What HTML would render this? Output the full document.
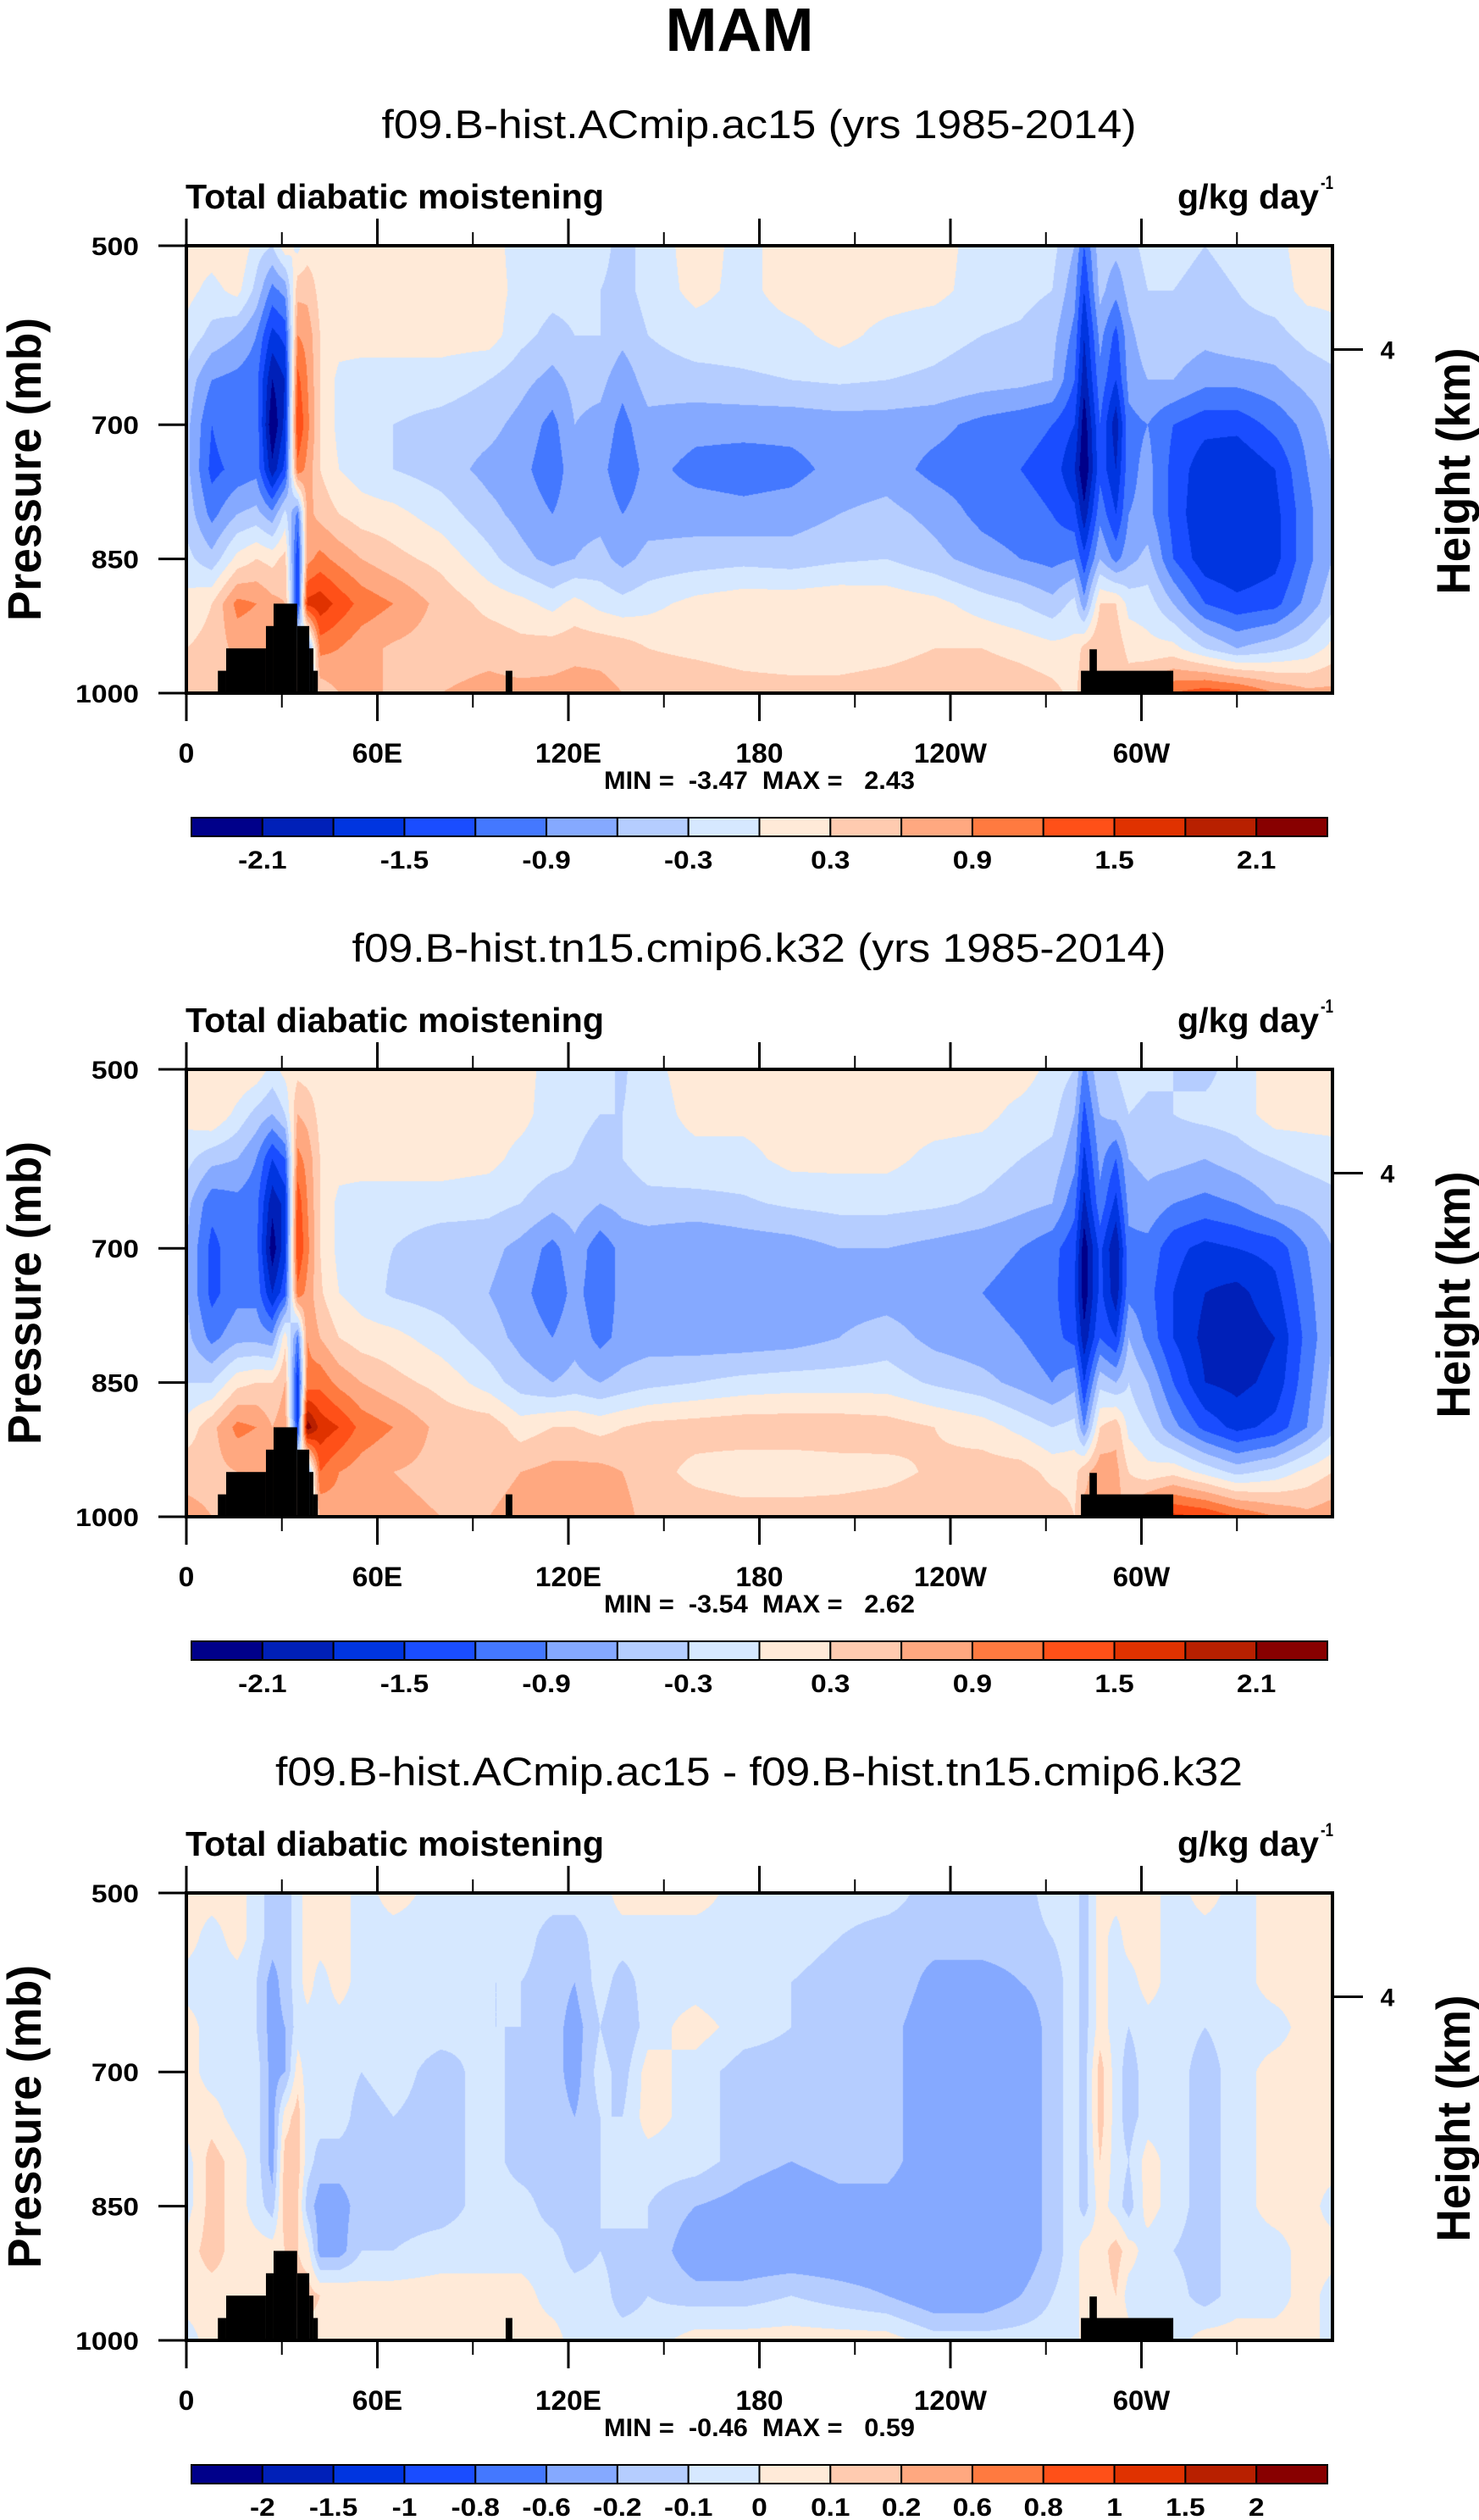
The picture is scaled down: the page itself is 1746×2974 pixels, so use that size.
<!DOCTYPE html>
<html><head><meta charset="utf-8">
<style>
html,body{margin:0;padding:0;background:#fff;}
#wrap{position:relative;width:1746px;height:2974px;overflow:hidden;background:#fff;}
canvas{position:absolute;left:220px;}
svg{position:absolute;left:0;top:0;}
text{font-family:"Liberation Sans",Arial,sans-serif;fill:#000;}
.pre{white-space:pre;}
</style></head>
<body>
<div id="wrap">
<canvas id="c0" width="1353" height="528" style="top:290px"></canvas>
<canvas id="c1" width="1353" height="528" style="top:1262px"></canvas>
<canvas id="c2" width="1353" height="528" style="top:2234px"></canvas>
<svg id="ov" width="1746" height="2974"></svg>
</div>
<script>
// ---------- data ----------
const lonNodes=[0,8,16,22,27,31,35,38,42,48,55,65,80,95,105,115,122,130,137,145,160,175,190,205,220,235,250,262,272,279,282,287,292,296,302,310,320,330,342,352,360];
const presNodes=[500,550,600,650,700,750,800,850,900,950,1000];

const fieldAC15=[
[.15,.15,.3,-.15,-.3,.2,-.1,.15,.15,.15,.15,.15,.15,.15,-.15,-.3,-.3,-.2,-.4,-.2,.15,-.1,.15,.15,.15,.15,-.15,-.15,-.2,-.6,-1.2,-.4,-.5,-.4,-.2,-.2,-.3,-.2,-.1,.15,.15],
[.1,-.1,.1,-.4,-1.0,-.8,.5,.5,.2,.15,.15,.15,.15,.15,-.1,-.2,-.2,-.3,-.4,-.2,.1,-.1,.15,.15,.15,.1,-.15,-.2,-.3,-.8,-1.5,-.5,-.8,-.5,-.3,-.3,-.4,-.3,-.15,.1,.1],
[-.1,-.4,-.6,-.9,-1.6,-1.4,.9,.8,.3,.15,.15,.15,.15,.15,-.2,-.4,-.3,-.3,-.5,-.3,-.15,-.15,-.1,.1,-.1,-.2,-.3,-.35,-.5,-1.0,-1.8,-.8,-1.3,-.7,-.4,-.4,-.5,-.4,-.4,-.2,-.1],
[-.4,-.9,-1.0,-1.1,-2.1,-1.8,1.3,.9,.3,-.1,-.15,-.15,-.15,-.3,-.5,-.7,-.5,-.5,-.8,-.45,-.4,-.35,-.3,-.25,-.3,-.35,-.45,-.5,-.6,-1.2,-2.0,-1.0,-1.5,-.8,-.6,-.6,-.8,-.8,-.7,-.5,-.4],
[-.5,-1.2,-.9,-1.0,-2.4,-1.7,1.5,1.0,.3,-.1,-.2,-.3,-.4,-.5,-.7,-1.0,-.6,-.7,-1.0,-.7,-.8,-.8,-.8,-.75,-.75,-.8,-1.0,-1.1,-1.2,-1.5,-2.3,-1.2,-2.0,-1.0,-.9,-1.2,-1.4,-1.4,-1.1,-.8,-.5],
[-.5,-1.3,-1.1,-1.0,-2.0,-1.4,1.1,.8,.3,0,-.15,-.3,-.45,-.7,-.8,-1.1,-.7,-.8,-1.1,-.8,-1.0,-1.05,-1.0,-.8,-.75,-1.0,-1.1,-1.2,-1.3,-1.8,-2.4,-1.3,-1.8,-1.0,-.8,-1.3,-1.7,-1.8,-1.5,-.9,-.6],
[-.4,-1.0,-.6,-.5,-.8,-.2,-1.0,.7,.5,.3,.15,.1,-.15,-.5,-.7,-.9,-.7,-.7,-.9,-.75,-.75,-.8,-.75,-.6,-.5,-.7,-1.0,-1.1,-1.2,-1.4,-2.0,-1.0,-1.5,-.9,-.8,-1.3,-1.8,-1.8,-1.6,-1.0,-.6],
[-.2,-.5,.1,.3,.2,.4,-1.5,.8,1.0,.8,.6,.4,.2,-.2,-.5,-.7,-.6,-.5,-.7,-.5,-.45,-.4,-.45,-.35,-.3,-.5,-.75,-.9,-1.0,-.9,-1.4,-.6,-1.0,-.7,-.5,-1.2,-1.7,-1.8,-1.6,-1.0,-.6],
[.1,.3,1.0,.9,.7,.6,-1.5,1.6,1.7,1.4,1.1,.9,.5,.2,.1,-.1,.1,-.1,-.2,-.1,.1,.2,.2,.25,.2,.1,-.15,-.3,-.5,-.2,-.8,.3,.3,-.1,-.15,-.6,-1.2,-1.4,-1.3,-.8,-.4],
[.3,.4,.7,.7,.6,.6,.3,-1.0,1.0,.9,.7,.55,.45,.5,.4,.45,.5,.5,.45,.3,.25,.2,.15,.15,.2,.3,.3,.2,.1,.1,.4,.6,.5,.2,.1,.1,-.3,-.6,-.4,-.2,.1],
[.6,.6,.6,.6,.6,.6,.6,-.5,.4,.6,.6,.6,.6,.7,.7,.7,.75,.7,.6,.45,.45,.4,.4,.4,.45,.5,.55,.5,.4,.2,.6,.6,.6,.5,.8,1.2,1.4,1.3,.9,.7,.7]
];
const fieldTN15=[
[.15,.3,.3,.2,-.1,.1,.2,.15,.15,.15,.15,.15,.15,.15,.1,-.1,-.3,-.2,-.35,-.1,.15,.15,.15,.15,.15,.15,.15,.15,-.1,-.3,-1.0,-.3,-.3,-.1,-.2,-.3,-.4,-.15,.15,.15,.15],
[.1,.3,-.1,-.4,-.6,-.3,.6,.5,.2,.15,.15,.2,.2,.15,.1,-.15,-.2,-.3,-.3,-.15,.1,.1,.15,.15,.15,.15,.1,-.1,-.2,-.6,-1.3,-.6,-.5,-.3,-.4,-.3,-.2,-.15,.15,.15,.15],
[-.2,-.5,-.6,-.9,-1.5,-1.2,1.0,.8,.3,.15,.15,.15,.15,.1,-.1,-.2,-.3,-.45,-.3,-.15,-.1,-.1,.1,.1,.1,-.1,-.15,-.3,-.4,-.8,-1.6,-.8,-1.2,-.6,-.5,-.5,-.6,-.45,-.3,-.2,-.15],
[-.5,-1.1,-1.0,-1.1,-2.0,-1.7,1.4,.9,.3,-.1,-.15,-.15,-.15,-.2,-.3,-.5,-.4,-.6,-.5,-.4,-.4,-.35,-.25,-.2,-.2,-.25,-.35,-.5,-.6,-1.1,-1.9,-1.0,-1.6,-.8,-.7,-.9,-1.0,-.9,-.6,-.5,-.4],
[-.6,-1.3,-1.0,-1.1,-2.3,-1.6,1.5,1.0,.3,-.1,-.2,-.3,-.5,-.5,-.7,-1.0,-.7,-1.1,-.8,-.8,-.9,-.8,-.75,-.6,-.6,-.7,-.8,-.9,-1.1,-1.4,-2.3,-1.4,-2.1,-1.0,-1.0,-1.4,-1.6,-1.5,-1.4,-.9,-.6],
[-.6,-1.3,-1.0,-1.0,-1.8,-1.3,1.1,.8,.35,0,-.15,-.35,-.45,-.6,-.8,-1.1,-.8,-1.1,-.8,-.8,-.9,-.85,-.8,-.75,-.75,-.8,-.9,-1.0,-1.1,-1.5,-2.3,-1.4,-2.0,-1.0,-1.1,-1.5,-1.8,-1.9,-1.6,-1.0,-.6],
[-.5,-1.0,-.7,-.7,-.8,.2,-1.0,.9,.6,.3,.15,.1,-.15,-.45,-.7,-.9,-.7,-1.0,-.8,-.75,-.8,-.8,-.75,-.6,-.45,-.7,-.8,-.9,-1.1,-1.3,-2.0,-1.2,-1.5,-.6,-1.0,-1.5,-1.9,-2.0,-1.8,-1.1,-.6],
[-.3,-.3,.2,.3,.3,.6,-1.6,1.0,1.1,.8,.6,.4,.2,-.15,-.45,-.6,-.5,-.6,-.5,-.4,-.3,-.2,-.15,-.15,-.15,-.35,-.5,-.7,-.9,-.7,-1.5,-.4,-.6,-.3,-.6,-1.2,-1.8,-1.9,-1.7,-1.0,-.5],
[.1,.5,1.0,.9,.6,.8,-1.5,2.3,1.7,1.5,1.1,.9,.5,.5,.15,.3,.3,.2,.3,.4,.45,.5,.5,.5,.45,.3,.15,-.1,-.3,-.2,-.9,.3,.5,-.1,-.3,-.8,-1.3,-1.6,-1.4,-.9,-.4],
[.5,.5,.6,.6,.6,.6,.5,-.8,1.2,.9,.75,.6,.5,.5,.6,.7,.7,.7,.6,.45,.2,.1,.1,.15,.2,.35,.45,.45,.2,.2,.5,.8,.7,.3,.1,.2,-.1,-.4,-.2,.1,.3],
[.7,.6,.6,.6,.6,.6,.6,-.4,.6,.75,.7,.7,.6,.6,.7,.8,.8,.8,.7,.5,.5,.45,.45,.45,.5,.55,.6,.6,.5,.3,.7,.7,.7,.6,1.2,1.6,1.5,1.2,.9,.7,.8]
];
const fieldDiff=[
[.05,.05,.05,-.05,-.15,-.15,-.05,.05,.05,.05,-.05,.05,-.05,-.05,-.05,-.05,-.05,-.05,.05,.05,.05,-.05,-.05,-.05,-.05,-.15,-.15,-.15,-.05,-.05,-.15,.05,.05,.05,.05,-.05,.05,-.05,.05,.05,.05],
[.05,-.05,.05,-.05,-.15,-.15,-.05,.05,.05,.05,-.05,-.05,-.05,-.05,-.05,-.15,-.15,-.05,-.05,-.05,-.05,-.05,-.05,-.1,-.15,-.15,-.15,-.15,-.1,-.05,-.15,.05,-.05,.05,.05,-.05,-.05,-.05,.05,.05,.05],
[-.05,-.05,-.05,-.1,-.25,-.15,-.05,.05,-.05,.05,-.05,-.05,-.05,-.1,-.1,-.15,-.2,-.05,-.15,-.05,-.05,-.1,-.1,-.15,-.1,-.25,-.25,-.2,-.15,-.05,-.15,.05,-.05,-.05,.05,-.05,-.1,-.05,.05,.05,.05],
[.05,-.05,-.05,-.1,-.25,-.2,-.05,-.05,-.05,-.05,-.05,-.05,-.05,-.1,-.1,-.15,-.25,-.1,-.2,-.05,.05,-.05,-.1,-.15,-.15,-.3,-.3,-.3,-.15,-.05,-.15,.05,-.05,-.1,-.05,-.05,-.1,-.05,-.05,.05,.05],
[.05,-.05,-.05,-.05,-.25,-.2,.05,-.05,-.05,-.05,-.1,-.05,-.15,-.05,-.15,-.15,-.25,-.05,-.15,.05,-.05,-.15,-.15,-.15,-.15,-.3,-.3,-.3,-.15,-.05,-.15,.15,-.05,-.15,-.05,-.05,-.15,-.05,.05,.05,.05],
[.05,.05,-.05,-.05,-.25,.05,.15,-.05,-.05,-.05,-.15,-.1,-.15,-.05,-.15,-.15,-.2,-.1,-.1,.05,-.05,-.15,-.15,-.15,-.15,-.3,-.3,-.3,-.15,-.05,-.15,.15,-.05,-.15,-.05,-.05,-.15,-.05,.05,.05,.05],
[-.05,.15,.05,-.05,-.25,.15,.15,-.05,-.15,-.15,-.15,-.15,-.15,-.05,-.15,-.15,-.2,-.1,-.05,-.05,-.05,-.15,-.2,-.15,-.15,-.3,-.3,-.3,-.15,-.05,-.15,.1,-.05,-.1,.05,-.05,-.15,-.05,.05,.05,.05],
[-.05,.15,.05,-.05,-.15,.15,.1,-.15,-.25,-.25,-.15,-.15,-.15,-.05,-.05,-.15,-.15,-.1,-.05,-.1,-.2,-.25,-.3,-.25,-.25,-.3,-.3,-.3,-.15,-.05,-.15,.05,-.05,-.15,.05,-.05,-.15,-.05,.05,.05,-.05],
[.05,.15,.05,.05,.05,.1,.1,.05,-.25,-.25,-.1,-.1,-.05,-.05,-.05,-.05,-.15,-.1,-.15,-.1,-.3,-.3,-.3,-.3,-.3,-.3,-.3,-.3,-.15,-.05,.05,.05,.15,.05,-.05,-.1,-.15,-.05,-.05,.05,.05],
[.05,.05,.05,.05,.05,.15,.15,.15,.1,.1,.05,.05,.05,.05,.05,-.05,-.05,-.05,-.15,-.1,-.15,-.15,-.1,-.15,-.2,-.3,-.3,-.2,-.1,-.05,.05,.05,.1,-.05,-.05,-.05,-.15,-.05,-.05,.05,-.05],
[-.05,.05,.05,.05,.05,.05,.05,.05,.05,.05,.05,.05,.05,.05,.05,.05,-.05,-.05,-.05,-.05,.05,.05,.05,.05,.05,-.05,-.05,-.05,-.05,-.05,.05,.05,.05,.05,.05,-.05,.05,.05,.05,.05,-.05]
];
const levelsAbs=[-2.1,-1.8,-1.5,-1.2,-0.9,-0.6,-0.3,0,0.3,0.6,0.9,1.2,1.5,1.8,2.1];
const levelsDiff=[-2,-1.5,-1,-0.8,-0.6,-0.2,-0.1,0,0.1,0.2,0.6,0.8,1,1.5,2];
const cbLabelsAbs=["-2.1","","-1.5","","-0.9","","-0.3","","0.3","","0.9","","1.5","","2.1"];
const cbLabelsDiff=["-2","-1.5","-1","-0.8","-0.6","-0.2","-0.1","0","0.1","0.2","0.6","0.8","1","1.5","2"];
const palette=["#00008a","#0020b8","#0035e0","#1a4dff","#4478ff","#85a9ff","#b5cdff","#d6e8ff","#ffead8","#ffcbb0","#ffa880","#ff7a40","#ff5018","#e03200","#b82000","#880000"];
const terrainLonStart=[9.9,12.5,25,27.4,34.8,38.6,39.9,100.3,281,283.7];
const terrainLonEnd=[12.5,25,27.4,34.8,38.6,39.9,41.3,102.4,310,286];
const terrainPres=[975,950,925,900,925,950,975,975,975,951];
const panelTitles=["f09.B-hist.ACmip.ac15 (yrs 1985-2014)","f09.B-hist.tn15.cmip6.k32 (yrs 1985-2014)","f09.B-hist.ACmip.ac15 - f09.B-hist.tn15.cmip6.k32"];
const panelTitleWidths=[891,961,1142];
const minMaxLabels=["MIN =  -3.47  MAX =   2.43","MIN =  -3.54  MAX =   2.62","MIN =  -0.46  MAX =   0.59"];
const xTickLons=[0,60,120,180,240,300];
const xTickLabels=["0","60E","120E","180","120W","60W"];
const xMinorLons=[30,90,150,210,270,330];
const yTickPres=[500,700,850,1000];
const yTickLabels=["500","700","850","1000"];

// ---------- layout ----------
const PX=220,PW=1353,PH=528,PTOPS=[290,1262,2234];
const xOf=lon=>PX+lon/360*PW;
const yOf=(p,top)=>top+(p-500)/500*PH;
const fields=[fieldAC15,fieldTN15,fieldDiff];
const levelSets=[levelsAbs,levelsAbs,levelsDiff];
const cbLabelSets=[cbLabelsAbs,cbLabelsAbs,cbLabelsDiff];

function sample(f,lon,p){
  let i=0; while(i<lonNodes.length-2 && lon>lonNodes[i+1]) i++;
  const tx=(lon-lonNodes[i])/(lonNodes[i+1]-lonNodes[i]);
  let fj=(p-500)/50; let j=Math.min(9,Math.floor(fj)); const ty=fj-j;
  const a=f[j][i],b=f[j][i+1],c=f[j+1][i],d=f[j+1][i+1];
  return (a*(1-tx)+b*tx)*(1-ty)+(c*(1-tx)+d*tx)*ty;
}
function hex(h){return [parseInt(h.substr(1,2),16),parseInt(h.substr(3,2),16),parseInt(h.substr(5,2),16)];}
const palRGB=palette.map(hex);

for(let k=0;k<3;k++){
  const cv=document.getElementById('c'+k), ctx=cv.getContext('2d');
  const img=ctx.createImageData(PW,PH); const f=fields[k], lv=levelSets[k];
  for(let y=0;y<PH;y++){
    const p=500+(y+0.5)/PH*500;
    for(let x=0;x<PW;x++){
      const lon=(x+0.5)/PW*360;
      const v=sample(f,lon,p);
      let idx=0; while(idx<lv.length && v>=lv[idx]) idx++;
      const c=palRGB[idx], o=(y*PW+x)*4;
      img.data[o]=c[0];img.data[o+1]=c[1];img.data[o+2]=c[2];img.data[o+3]=255;
    }
  }
  ctx.putImageData(img,0,0);
}

// ---------- SVG overlay ----------
const NS="http://www.w3.org/2000/svg";
const svg=document.getElementById('ov');
function mk(tag,attrs,parent){const e=document.createElementNS(NS,tag);for(const a in attrs)e.setAttribute(a,attrs[a]);(parent||svg).appendChild(e);return e;}
function txt(s,attrs,parent){const e=mk('text',attrs,parent);e.textContent=s;return e;}
const cw={'-':11,'.':9,'E':22,'W':30,' ':9};
function tlen(s){let w=0;for(const ch of s)w+=(cw[ch]!==undefined?cw[ch]:18.7);return w;}

const mam=txt("MAM",{x:873,y:60,'text-anchor':'middle','font-size':72,'font-weight':'bold',textLength:175,lengthAdjust:'spacingAndGlyphs'});



for(let k=0;k<3;k++){
  const top=PTOPS[k], off=top-290;
  const g=mk('g',{});
  
  
  const tw=panelTitleWidths[k];
  const t=txt(panelTitles[k],{x:873-tw/2+23,y:163+off,'font-size':47,textLength:tw,lengthAdjust:'spacingAndGlyphs'},g);
  
  
  const lt=txt("Total diabatic moistening",{x:219,y:246+off,'font-size':41,'font-weight':'bold',textLength:494,lengthAdjust:'spacingAndGlyphs'},g);
  
  
  const u=txt("g/kg day",{x:1390,y:246+off,'font-size':41,'font-weight':'bold',textLength:167,lengthAdjust:'spacingAndGlyphs'},g);
  
  
  const us=txt("-1",{x:1559,y:223+off,'font-size':22,'font-weight':'bold',textLength:15,lengthAdjust:'spacingAndGlyphs'},g);
  
  
  for(let i=0;i<terrainPres.length;i++){
    const r=mk('rect',{x:xOf(terrainLonStart[i]),y:yOf(terrainPres[i],top),width:xOf(terrainLonEnd[i])-xOf(terrainLonStart[i]),height:yOf(1000,top)-yOf(terrainPres[i],top),fill:'#000'},g);
    
    
  }
  for(let i=0;i<xTickLons.length;i++){
    const x=xOf(xTickLons[i]);
    const a=mk('line',{x1:x,x2:x,y1:top-32,y2:top,stroke:'#000','stroke-width':3},g);
    
    
    const b=mk('line',{x1:x,x2:x,y1:top+PH,y2:top+PH+33,stroke:'#000','stroke-width':3},g);
    
    
    const s=xTickLabels[i];
    const l=txt(s,{x:x,y:top+PH+82,'text-anchor':'middle','font-size':32,'font-weight':'bold',textLength:tlen(s),lengthAdjust:'spacingAndGlyphs'},g);
    
    
  }
  for(let i=0;i<xMinorLons.length;i++){
    const x=xOf(xMinorLons[i]);
    const a=mk('line',{x1:x,x2:x,y1:top-16,y2:top,stroke:'#000','stroke-width':2},g);
    
    
    const b=mk('line',{x1:x,x2:x,y1:top+PH,y2:top+PH+17,stroke:'#000','stroke-width':2},g);
    
    
  }
  for(let i=0;i<yTickPres.length;i++){
    const y=yOf(yTickPres[i],top);
    const a=mk('line',{x1:187,x2:PX,y1:y,y2:y,stroke:'#000','stroke-width':3},g);
    
    
    const s=yTickLabels[i];
    const l=txt(s,{x:164,y:y+11,'text-anchor':'end','font-size':30,'font-weight':'bold',textLength:tlen(s),lengthAdjust:'spacingAndGlyphs'},g);
    
    
  }
  const hy=yOf(616,top);
  const ht=mk('line',{x1:PX+PW,x2:1609,y1:hy,y2:hy,stroke:'#000','stroke-width':3},g);
  
  
  const hl=txt("4",{x:1638,y:hy+11,'text-anchor':'middle','font-size':30,'font-weight':'bold'},g);
  
  
  const fr=mk('rect',{x:PX,y:top,width:PW,height:PH,fill:'none',stroke:'#000','stroke-width':4},g);
  
  
  const yt=txt("Pressure (mb)",{transform:'translate(48,'+(554+off)+') rotate(-90)','text-anchor':'middle','font-size':56,'font-weight':'bold',textLength:358,lengthAdjust:'spacingAndGlyphs'},g);
  
  
  const rt=txt("Height (km)",{transform:'translate(1735,'+(556+off)+') rotate(-90)','text-anchor':'middle','font-size':56,'font-weight':'bold',textLength:291,lengthAdjust:'spacingAndGlyphs'},g);
  
  
  const mm=txt(minMaxLabels[k],{x:713,y:931+off,'font-size':30,'font-weight':'bold','class':'pre',textLength:367,lengthAdjust:'spacingAndGlyphs'},g);
  
  
  const cbx=226,cbw=1341,cby=965+off,cbh=22,n=palette.length,bw=cbw/n;
  const cb=mk('g',{},g);
  
  
  for(let i=0;i<n;i++){
    const r=mk('rect',{x:cbx+i*bw,y:cby,width:bw,height:cbh,fill:palette[i],stroke:'#000','stroke-width':2},cb);
    
    
  }
  const lbls=cbLabelSets[k];
  for(let i=0;i<lbls.length;i++){
    if(!lbls[i])continue;
    const l=txt(lbls[i],{x:cbx+(i+1)*bw,y:1025+off,'text-anchor':'middle','font-size':30,'font-weight':'bold',textLength:tlen(lbls[i]),lengthAdjust:'spacingAndGlyphs'},cb);
    
    
  }
}
</script>
</body></html>
